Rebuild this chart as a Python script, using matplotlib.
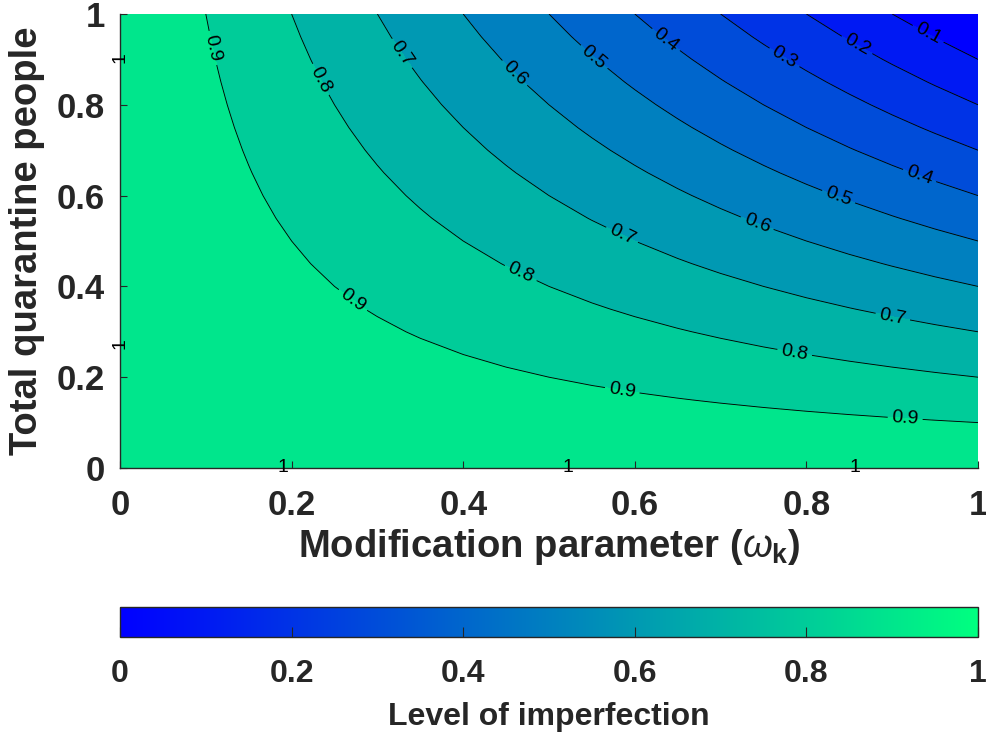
import matplotlib
matplotlib.use("Agg")
import matplotlib.pyplot as plt
import numpy as np
from matplotlib import cm
from matplotlib.colors import Normalize

# grid: modification parameter (x) and total quarantine people (y)
omega = [0.00, 0.05, 0.10, 0.15, 0.20, 0.25, 0.30, 0.35, 0.40, 0.45, 0.50,
         0.55, 0.60, 0.65, 0.70, 0.75, 0.80, 0.85, 0.90, 0.95, 1.00]
quarantine = [0.00, 0.05, 0.10, 0.15, 0.20, 0.25, 0.30, 0.35, 0.40, 0.45, 0.50,
              0.55, 0.60, 0.65, 0.70, 0.75, 0.80, 0.85, 0.90, 0.95, 1.00]

# level of imperfection, one row per quarantine value
imperfection = [
    [1, 1, 1, 1, 1, 1, 1, 1, 1, 1, 1, 1, 1, 1, 1, 1, 1, 1, 1, 1, 1],
    [1, .9975, .995, .9925, .99, .9875, .985, .9825, .98, .9775, .975, .9725, .97, .9675, .965, .9625, .96, .9575, .955, .9525, .95],
    [1, .995, .99, .985, .98, .975, .97, .965, .96, .955, .95, .945, .94, .935, .93, .925, .92, .915, .91, .905, .90],
    [1, .9925, .985, .9775, .97, .9625, .955, .9475, .94, .9325, .925, .9175, .91, .9025, .895, .8875, .88, .8725, .865, .8575, .85],
    [1, .99, .98, .97, .96, .95, .94, .93, .92, .91, .90, .89, .88, .87, .86, .85, .84, .83, .82, .81, .80],
    [1, .9875, .975, .9625, .95, .9375, .925, .9125, .90, .8875, .875, .8625, .85, .8375, .825, .8125, .80, .7875, .775, .7625, .75],
    [1, .985, .97, .955, .94, .925, .91, .895, .88, .865, .85, .835, .82, .805, .79, .775, .76, .745, .73, .715, .70],
    [1, .9825, .965, .9475, .93, .9125, .895, .8775, .86, .8425, .825, .8075, .79, .7725, .755, .7375, .72, .7025, .685, .6675, .65],
    [1, .98, .96, .94, .92, .90, .88, .86, .84, .82, .80, .78, .76, .74, .72, .70, .68, .66, .64, .62, .60],
    [1, .9775, .955, .9325, .91, .8875, .865, .8425, .82, .7975, .775, .7525, .73, .7075, .685, .6625, .64, .6175, .595, .5725, .55],
    [1, .975, .95, .925, .90, .875, .85, .825, .80, .775, .75, .725, .70, .675, .65, .625, .60, .575, .55, .525, .50],
    [1, .9725, .945, .9175, .89, .8625, .835, .8075, .78, .7525, .725, .6975, .67, .6425, .615, .5875, .56, .5325, .505, .4775, .45],
    [1, .97, .94, .91, .88, .85, .82, .79, .76, .73, .70, .67, .64, .61, .58, .55, .52, .49, .46, .43, .40],
    [1, .9675, .935, .9025, .87, .8375, .805, .7725, .74, .7075, .675, .6425, .61, .5775, .545, .5125, .48, .4475, .415, .3825, .35],
    [1, .965, .93, .895, .86, .825, .79, .755, .72, .685, .65, .615, .58, .545, .51, .475, .44, .405, .37, .335, .30],
    [1, .9625, .925, .8875, .85, .8125, .775, .7375, .70, .6625, .625, .5875, .55, .5125, .475, .4375, .40, .3625, .325, .2875, .25],
    [1, .96, .92, .88, .84, .80, .76, .72, .68, .64, .60, .56, .52, .48, .44, .40, .36, .32, .28, .24, .20],
    [1, .9575, .915, .8725, .83, .7875, .745, .7025, .66, .6175, .575, .5325, .49, .4475, .405, .3625, .32, .2775, .235, .1925, .15],
    [1, .955, .91, .865, .82, .775, .73, .685, .64, .595, .55, .505, .46, .415, .37, .325, .28, .235, .19, .145, .10],
    [1, .9525, .905, .8575, .81, .7625, .715, .6675, .62, .5725, .525, .4775, .43, .3825, .335, .2875, .24, .1925, .145, .0975, .05],
    [1, .95, .90, .85, .80, .75, .70, .65, .60, .55, .50, .45, .40, .35, .30, .25, .20, .15, .10, .05, 0],
]

levels = [0.0, 0.1, 0.2, 0.3, 0.4, 0.5, 0.6, 0.7, 0.8, 0.9, 1.0]
ticks = [0, 0.2, 0.4, 0.6, 0.8, 1]
tick_labels = ["0", "0.2", "0.4", "0.6", "0.8", "1"]

# where the labels sit on the lines
label_spots = [(0.108, 0.925), (0.233, 0.855), (0.338, 0.925), (0.46, 0.87),
               (0.55, 0.90), (0.635, 0.94), (0.773, 0.90), (0.857, 0.925),
               (0.94, 0.95), (0.93, 0.634), (0.837, 0.595), (0.741, 0.531),
               (0.585, 0.513), (0.466, 0.425), (0.27, 0.366), (0.90, 0.326),
               (0.786, 0.251), (0.585, 0.167), (0.915, 0.106)]
edge_one_x = [0.19, 0.522, 0.857]
edge_one_y = [0.905, 0.275]

plt.rcParams['font.family'] = ['Liberation Sans', 'DejaVu Sans']
plt.rcParams['mathtext.fontset'] = 'custom'
plt.rcParams['mathtext.rm'] = 'Liberation Sans'
plt.rcParams['mathtext.it'] = 'Liberation Sans:italic'
plt.rcParams['mathtext.bf'] = 'Liberation Sans:bold'

dark = (0.15, 0.15, 0.15)
W, H = 986, 733
fig = plt.figure(figsize=(W / 100, H / 100), dpi=100)
ax = fig.add_axes([120 / W, 1 - 468 / H, 858 / W, 454 / H])

cmap = plt.get_cmap('winter')
band_colors = [cmap(l) for l in levels[:-1]]
X, Y = np.meshgrid(omega, quarantine)
Z = np.array(imperfection, dtype=float)

ax.contourf(X, Y, Z, levels=levels, colors=band_colors)
cs = ax.contour(X, Y, Z, levels=levels[1:-1], colors='black', linewidths=0.65)
ax.clabel(cs, fmt='%g', fontsize=14, inline=True, inline_spacing=4,
          manual=label_spots)

for x in edge_one_x:
    ax.text(x, 0.0, "1", ha='center', va='center', fontsize=14)
for y in edge_one_y:
    ax.text(0.0, y, "1", ha='center', va='center', fontsize=14, rotation=90)

ax.set_xlim(0, 1)
ax.set_ylim(0, 1)
ax.set_xticks(ticks)
ax.set_xticklabels(tick_labels)
ax.set_yticks(ticks)
ax.set_yticklabels(tick_labels)
for s in ['top', 'right']:
    ax.spines[s].set_visible(False)
for s in ['left', 'bottom']:
    ax.spines[s].set_color(dark)
    ax.spines[s].set_linewidth(1.0)
ax.tick_params(direction='in', length=5, width=0.8, color=dark, labelcolor=dark,
               labelsize=25)
ax.tick_params(axis='x', pad=15)
ax.tick_params(axis='y', pad=11)
for lab in ax.get_xticklabels() + ax.get_yticklabels():
    lab.set_fontweight('bold')

ax.set_xlabel(r'Modification parameter ($\omega_{\mathbf{k}}$)', fontsize=27.5,
              fontweight='bold', color=dark, labelpad=4)
ax.set_ylabel('Total quarantine people', fontsize=27.5, fontweight='bold',
              color=dark, labelpad=8)

# colour bar
cax = fig.add_axes([120 / W, 1 - 637 / H, 858 / W, 30 / H])
sm = cm.ScalarMappable(norm=Normalize(0, 1), cmap=cmap)
cb = fig.colorbar(sm, cax=cax, orientation='horizontal')
cb.set_ticks(ticks)
cb.set_ticklabels(tick_labels)
cb.outline.set_edgecolor(dark)
cb.outline.set_linewidth(1.0)
cax.tick_params(direction='in', length=7, width=0.8, color=dark, labelcolor=dark,
                labelsize=23, pad=16)
for lab in cax.get_xticklabels():
    lab.set_fontweight('bold')
cb.set_label('Level of imperfection', fontsize=23, fontweight='bold', color=dark,
             labelpad=9)

fig.savefig('out.png', dpi=100)
